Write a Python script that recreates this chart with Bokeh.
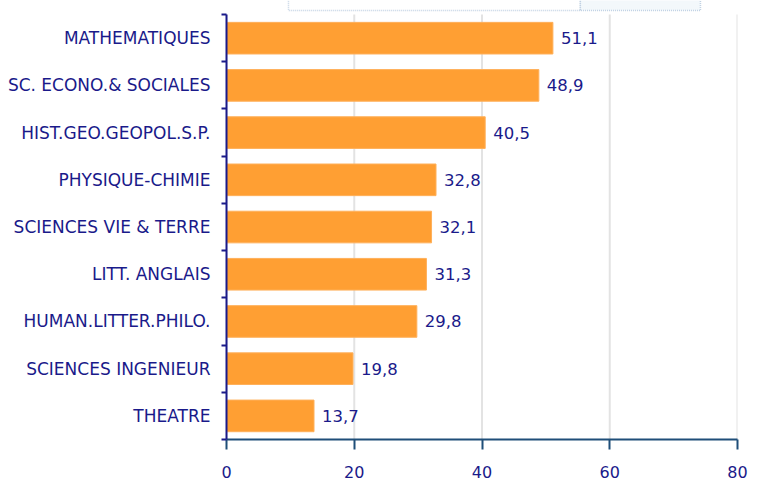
from bokeh.plotting import figure
from bokeh.models import ColumnDataSource, Range1d, FixedTicker, BoxAnnotation
from bokeh.core.properties import value
from bokeh.embed import file_html
from bokeh.resources import INLINE

categories = ["MATHEMATIQUES", "SC. ECONO.& SOCIALES", "HIST.GEO.GEOPOL.S.P.",
              "PHYSIQUE-CHIMIE", "SCIENCES VIE & TERRE", "LITT. ANGLAIS",
              "HUMAN.LITTER.PHILO.", "SCIENCES INGENIEUR", "THEATRE"]
values = [51.1, 48.9, 40.5, 32.8, 32.1, 31.3, 29.8, 19.8, 13.7]
x_ticks = [0, 20, 40, 60, 80]

NAVY = "#1a1a8a"
FONT = "DejaVu Sans"
N = len(categories)
TOP_PAD = 0.298  # headroom above the first category (header box zone)

ypos = [i + 0.5 for i in range(N)]
labels = [f"{v:.1f}".replace(".", ",") for v in values]
src = ColumnDataSource(dict(y=ypos, v=values, lab=labels, cat=categories))
grid_src = ColumnDataSource(dict(x=x_ticks, y0=[0] * len(x_ticks), y1=[N] * len(x_ticks)))

p = figure(width=761, height=484, output_backend="svg", toolbar_location=None,
           x_range=Range1d(0, 80), y_range=Range1d(N, -TOP_PAD),
           min_border_left=226, min_border_right=24, min_border_top=0,
           min_border_bottom=45)
p.outline_line_color = None
p.background_fill_color = "white"
p.border_fill_color = "white"

# vertical gridlines limited to the category band
p.segment(x0="x", y0="y0", x1="x", y1="y1", source=grid_src,
          line_color="#e3e3e3", line_width=2)

p.hbar(y="y", right="v", left=0, height=0.67, source=src,
       fill_color="#ff9f33", line_color="#ffb05a", line_width=1)
p.text(x="v", y="y", text="lab", source=src, x_offset=8,
       text_baseline="middle", text_align="left",
       text_font=value(FONT), text_font_size="16.5px", text_color=NAVY)

# header box, partly cut off at the top of the page
p.add_layout(BoxAnnotation(left=9.7, right=55.4, top=-TOP_PAD - 0.2, bottom=-0.085,
                           fill_color="white", fill_alpha=1,
                           line_color="#3f72a8", line_dash="1 1", line_width=1.5))
p.add_layout(BoxAnnotation(left=55.4, right=74.2, top=-TOP_PAD - 0.2, bottom=-0.085,
                           fill_color="#f3f8fb", fill_alpha=1,
                           line_color="#3f72a8", line_dash="1 1", line_width=1.5))

# x axis
xa = p.xaxis[0]
xa.ticker = FixedTicker(ticks=x_ticks)
xa.axis_line_color = "#1f4e79"
xa.axis_line_width = 2
xa.major_tick_line_color = "#1f4e79"
xa.major_tick_line_width = 2
xa.major_tick_out = 10
xa.major_tick_in = 0
xa.minor_tick_line_color = None
xa.major_label_standoff = 16
xa.major_label_text_font = FONT
xa.major_label_text_font_size = "16px"
xa.major_label_text_color = NAVY

# y axis
ya = p.yaxis[0]
ya.bounds = (0, N)
ya.ticker = FixedTicker(ticks=ypos, minor_ticks=list(range(N + 1)))
ya.major_label_overrides = {y: c for y, c in zip(ypos, categories)}
ya.axis_line_color = NAVY
ya.axis_line_width = 2
ya.major_tick_line_color = None
ya.major_tick_out = 0
ya.major_tick_in = 0
ya.minor_tick_line_color = NAVY
ya.minor_tick_line_width = 2
ya.minor_tick_out = 5
ya.minor_tick_in = 0
ya.major_label_standoff = 11
ya.major_label_text_font = FONT
ya.major_label_text_font_size = "17px"
ya.major_label_text_color = NAVY

p.xgrid.grid_line_color = None
p.ygrid.grid_line_color = None

open("out.html", "w").write(file_html(p, INLINE))
